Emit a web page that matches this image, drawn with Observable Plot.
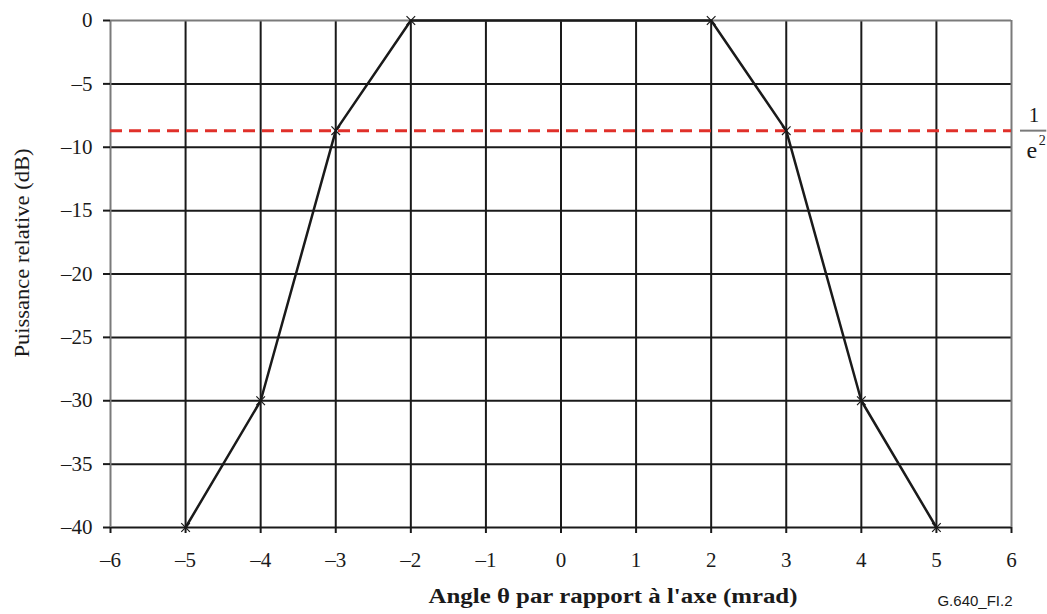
<!DOCTYPE html>
<html>
<head>
<meta charset="utf-8">
<script src="https://cdn.jsdelivr.net/npm/d3@7"></script>
<script src="https://cdn.jsdelivr.net/npm/@observablehq/plot@0.6"></script>
<style>
  html, body { margin: 0; padding: 0; background: #fff; }
  svg { display: block; }
</style>
</head>
<body>
<div id="chart"></div>
<script>
const angles = [-5, -4, -3, -2, 2, 3, 4, 5];
const powerDb = [-40, -30, -8.69, 0, 0, -8.69, -30, -40];
const xTicks = [-6, -5, -4, -3, -2, -1, 0, 1, 2, 3, 4, 5, 6];
const yTicks = [0, -5, -10, -15, -20, -25, -30, -35, -40];
const threshold = [-8.69];
const xLabel = "Angle θ par rapport à l'axe (mrad)";
const yLabel = "Puissance relative (dB)";
const figId = "G.640_FI.2";

const data = angles.map((a, i) => ({x: a, y: powerDb[i]}));
const ink = "#1a1a1a";
const gray = "#7a7a7a";
const fmt = d => d < 0 ? "\u2013" + Math.abs(d) : String(d);

const chart = Plot.plot({
  width: 1047,
  height: 614,
  marginLeft: 110,
  marginRight: 36,
  marginTop: 20,
  marginBottom: 87,
  style: {fontFamily: "'Liberation Serif', 'Times New Roman', serif", fontSize: "21px", color: ink, background: "#fff"},
  x: {domain: [-6, 6], ticks: xTicks},
  y: {domain: [-40, 0], ticks: yTicks},
  marks: [
    Plot.gridX(xTicks.filter(d => d !== -6 && d !== 6), {stroke: ink, strokeOpacity: 1, strokeWidth: 2}),
    Plot.gridY(yTicks.filter(d => d !== 0), {stroke: ink, strokeOpacity: 1, strokeWidth: 2}),
    Plot.ruleX([-6, 6], {stroke: gray, strokeWidth: 2}),
    Plot.ruleY([0], {stroke: gray, strokeWidth: 2}),
    Plot.axisX({ticks: xTicks, tickSize: 6, tickPadding: 19, tickFormat: fmt, fontSize: 21, stroke: ink, strokeWidth: 2, label: null}),
    Plot.axisY({ticks: yTicks, tickSize: 7, tickPadding: 11, tickFormat: fmt, fontSize: 21, stroke: ink, strokeWidth: 2, label: null}),
    Plot.ruleY(threshold, {stroke: "#e0302a", strokeWidth: 3, strokeDasharray: "12,7"}),
    Plot.line(data, {x: "x", y: "y", stroke: ink, strokeWidth: 2.5}),
    Plot.dot(data, {x: "x", y: "y", symbol: "times", r: 4, stroke: ink, strokeWidth: 1.2}),
    // 1/e² annotation
    Plot.ruleY(threshold, {x1: 6.12, x2: 6.47, stroke: gray, strokeWidth: 2, clip: false}),
    Plot.text(threshold, {x: 6.30, y: d => d, text: ["1"], dy: -15, fontSize: 21, fill: ink, clip: false}),
    Plot.text(threshold, {x: 6.27, y: d => d, text: ["e"], dy: 20, fontSize: 24, fill: ink, clip: false}),
    Plot.text(threshold, {x: 6.41, y: d => d, text: ["2"], dy: 10, fontSize: 14, fill: ink, clip: false}),
    // axis titles
    Plot.text([yLabel], {frameAnchor: "left", dx: -88, dy: -21, rotate: -90, textAnchor: "middle", fontSize: 21, fill: ink, text: d => d}),
    Plot.text([xLabel], {frameAnchor: "bottom-left", dx: 318, dy: 75, textAnchor: "start", fontSize: 20, fontWeight: "bold", fill: ink, text: d => d}),
    Plot.text([figId], {frameAnchor: "bottom-right", dy: 78, dx: 1, textAnchor: "end", fontSize: 15, fontFamily: "'Liberation Sans', Arial, sans-serif", fill: ink, text: d => d})
  ]
});
// match the reference typesetting widths of the two titles
chart.querySelectorAll("text").forEach(t => {
  if (t.textContent === xLabel) {
    t.setAttribute("textLength", 369);
    t.setAttribute("lengthAdjust", "spacingAndGlyphs");
  } else if (t.textContent === yLabel) {
    t.setAttribute("textLength", 209);
    t.setAttribute("lengthAdjust", "spacingAndGlyphs");
  }
});
document.getElementById("chart").appendChild(chart);
</script>
</body>
</html>
